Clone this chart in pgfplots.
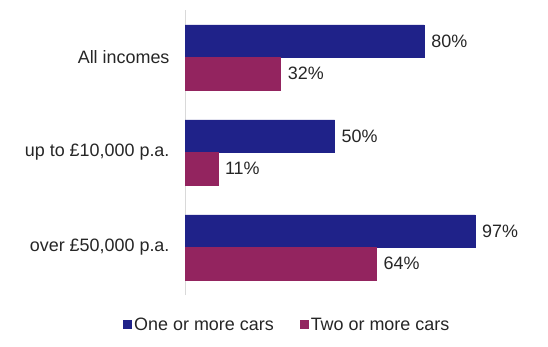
\documentclass[border=0pt]{standalone}
\usepackage{pgfplots}
\pgfplotsset{compat=1.18}
\usepackage{fontspec}
\setmainfont{Liberation Sans}
\definecolor{cblue}{RGB}{31,34,137}
\definecolor{cpurple}{RGB}{147,36,95}
\definecolor{txt}{RGB}{38,38,38}
\definecolor{axgray}{RGB}{217,217,217}
\begin{document}
\begin{tikzpicture}
\path[use as bounding box] (0bp,0bp) rectangle (548bp,347bp);
\begin{axis}[
  at={(185bp,52bp)}, anchor=south west,
  scale only axis, width=299bp, height=285bp,
  xmin=0, xmax=100, ymin=-0.5, ymax=2.5,
  xbar, bar width=32.5bp,
  axis x line=none,
  axis y line*=left,
  y axis line style={axgray, line width=1bp, -},
  ytick={0,1,2},
  yticklabels={{over £50,000 p.a.}, {up to £10,000 p.a.}, {All incomes}},
  major tick length=0pt,
  yticklabel style={font=\fontsize{18}{21}\selectfont, text=txt, xshift=-12bp},
  /pgf/number format/assume math mode=true,
  nodes near coords={\pgfmathprintnumber[assume math mode=true]{\pgfplotspointmeta}\%},
  nodes near coords style={font=\fontsize{18}{21}\selectfont, text=txt, anchor=west, inner sep=2bp, xshift=5bp},
  legend columns=2,
  legend style={draw=none, fill=none, at={(0.342,-0.105)}, anchor=center,
    font=\fontsize{18}{21}\selectfont, text=txt,
    /tikz/every even column/.append style={column sep=24bp}},
  legend image code/.code={\draw[#1,draw=none] (-4bp,-4.5bp) rectangle (5bp,4.5bp);},
]
\addplot[fill=cblue, draw=cblue, bar shift=16.25bp] coordinates {(80,2) (50,1) (97,0)};
\addplot[fill=cpurple, draw=cpurple, bar shift=-16.25bp] coordinates {(32,2) (11,1) (64,0)};
\legend{One or more cars, Two or more cars}
\end{axis}
\end{tikzpicture}
\end{document}
